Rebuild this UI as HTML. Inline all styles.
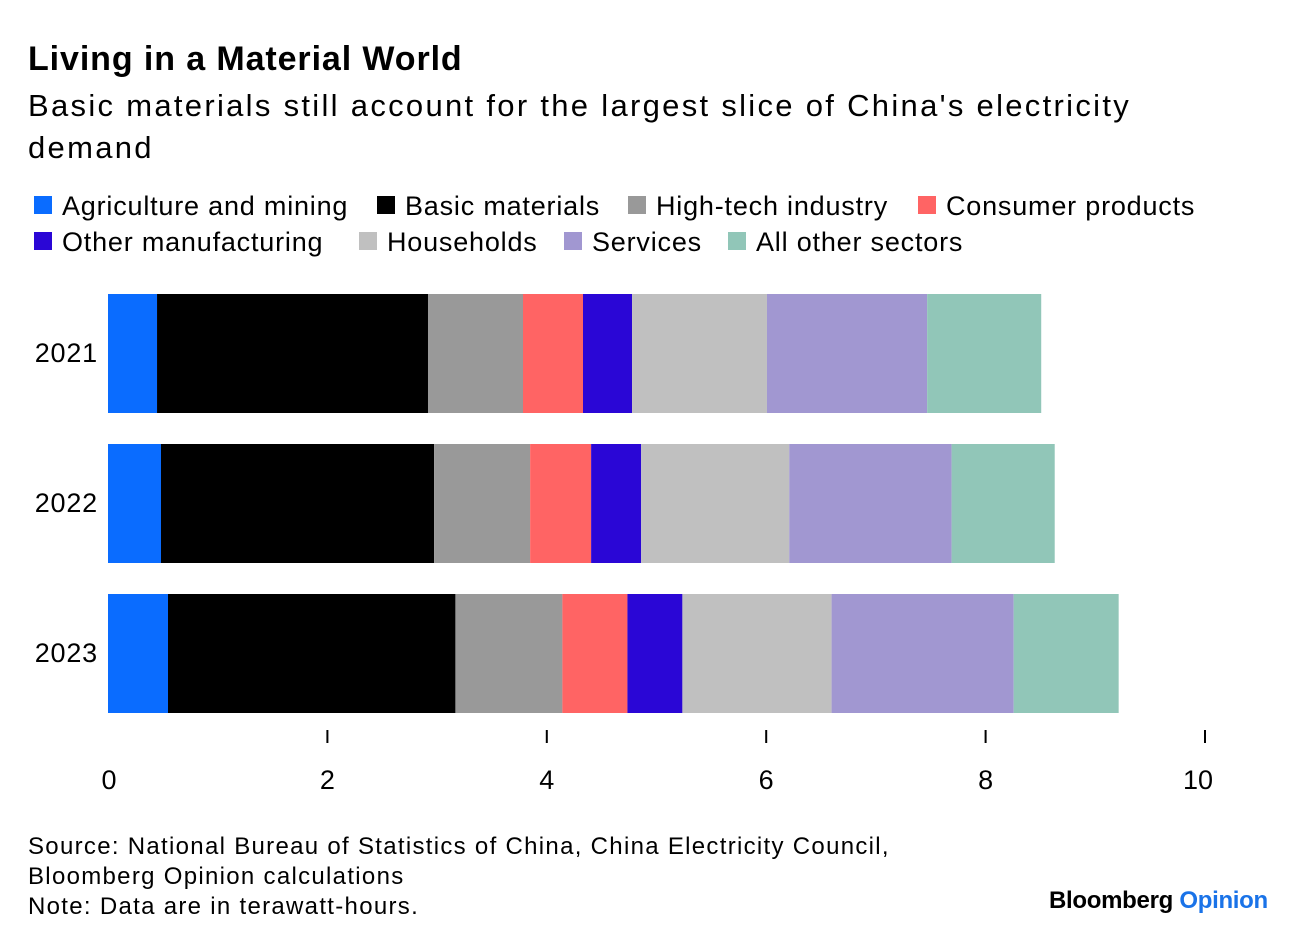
<!DOCTYPE html>
<html><head><meta charset="utf-8">
<style>
body{margin:0;background:#fff;font-family:"Liberation Sans",sans-serif;color:#000;}
.wrap{position:relative;width:1296px;height:946px;overflow:hidden;}
.t{position:absolute;white-space:nowrap;}
</style></head>
<body><div class="wrap">
<div class="t" style="left:28px;top:40px;font-size:34px;font-weight:bold;letter-spacing:0.9px">Living in a Material World</div>
<div class="t" style="left:28px;top:85px;font-size:31px;line-height:42px;white-space:normal;width:1160px;letter-spacing:2.3px">Basic materials still account for the largest slice of China's electricity demand</div>
<svg id="chart" width="1296" height="946" style="position:absolute;left:0;top:0"></svg>
<div class="t" style="left:28px;top:832px;font-size:24px;line-height:30px;letter-spacing:1.3px">Source: National Bureau of Statistics of China, China Electricity Council,<br>Bloomberg Opinion calculations<br>Note: Data are in terawatt-hours.</div>
<div class="t" style="left:1049px;top:887px;font-size:24px;font-weight:bold;letter-spacing:-0.3px">Bloomberg <span style="color:#1a73e8">Opinion</span></div>
</div>
<script>
const years=["2021","2022","2023"];
const sectors=["Agriculture and mining","Basic materials","High-tech industry","Consumer products","Other manufacturing","Households","Services","All other sectors"];
const colors=["#0a6cff","#000000","#999999","#ff6464","#2a06d6","#c0c0c0","#a197d1","#91c6b8"];
const v2021=[0.447,2.47,0.866,0.547,0.447,1.23,1.46,1.04];
const v2022=[0.483,2.49,0.875,0.556,0.456,1.35,1.48,0.94];
const v2023=[0.547,2.62,0.975,0.593,0.501,1.36,1.66,0.957];
const series=[v2021,v2022,v2023];
const ticks=[2,4,6,8,10];
const axisLabels=[0,2,4,6,8,10];
const ns="http://www.w3.org/2000/svg";
const svg=document.getElementById('chart');
const x=v=>108+v*109.7;
const yTop=i=>294+i*150;
function mk(tag,attrs){const e=document.createElementNS(ns,tag);for(const k in attrs)e.setAttribute(k,attrs[k]);svg.appendChild(e);return e;}
const legendPos=[[34,206],[377,206],[628,206],[918,206],[34,242],[359,242],[564,242],[728,242]];
sectors.forEach((s,i)=>{
 const r=mk('rect',{x:legendPos[i][0],y:legendPos[i][1]-10,width:18,height:18,fill:colors[i]});
 
 
 const t=mk('text',{x:legendPos[i][0]+28,y:legendPos[i][1]+9,'font-size':27,fill:'#000','letter-spacing':'0.8'});
 t.textContent=s;
 
 
});
years.forEach((yr,i)=>{
 let acc=0;
 series[i].forEach((v,j)=>{
  const r=mk('rect',{x:x(acc),y:yTop(i),width:x(acc+v)-x(acc),height:119,fill:colors[j]});
  
  
  acc+=v;
 });
 const t=mk('text',{x:98,y:yTop(i)+68,'font-size':27,'text-anchor':'end','letter-spacing':'0.8'});
 t.textContent=yr;
 
 
});
ticks.forEach(tv=>{
 const l=mk('line',{x1:x(tv),x2:x(tv),y1:730,y2:743,stroke:'#000','stroke-width':2});
 
 
});
axisLabels.forEach(tv=>{
 const t=mk('text',{x:x(tv),y:789,'font-size':27,'text-anchor':tv===10?'end':'middle'});
 if(tv===10)t.setAttribute('x',x(tv)+8);
 if(tv===0)t.setAttribute('x',x(tv)+1);
 t.textContent=tv;
 
 
});
</script>
</body></html>
